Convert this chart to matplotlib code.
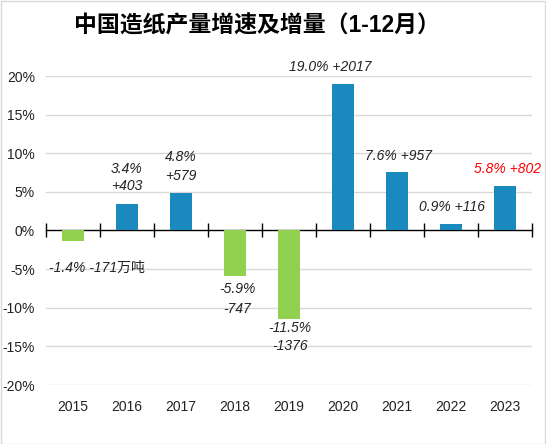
import matplotlib
matplotlib.use("Agg")
import matplotlib.pyplot as plt
import matplotlib.transforms as mtransforms
from matplotlib.patches import Rectangle
import numpy as np

plt.rcParams['font.family'] = ['Liberation Sans', 'Noto Sans CJK SC', 'DejaVu Sans']

years = ['2015', '2016', '2017', '2018', '2019', '2020', '2021', '2022', '2023']
growth = [-1.4, 3.4, 4.8, -5.9, -11.5, 19.0, 7.6, 0.9, 5.8]
increment = [-171, 403, 579, -747, -1376, 2017, 957, 116, 802]
yticks = [-20, -15, -10, -5, 0, 5, 10, 15, 20]

blue = '#1A89BE'
green = '#92D050'

W, H = 546, 444
fig = plt.figure(figsize=(W / 100, H / 100), dpi=100)
ax = fig.add_axes([46 / W, (H - 385) / H, (532 - 46) / W, (385 - 76) / H])

x = np.arange(len(years))
colors = [blue if g >= 0 else green for g in growth]
ax.bar(x, growth, width=0.41, color=colors, zorder=3)

ax.set_xlim(-0.5, len(years) - 0.5)
ax.set_ylim(-20, 20)
ax.set_yticks(yticks)
ax.set_yticklabels([f'{t}%' for t in yticks], fontsize=10, color='#222222')
ax.tick_params(axis='y', length=0, pad=8)
for t in yticks:
    if t != 0:
        ax.axhline(t, color='#D9D9D9', lw=1.0, zorder=1)

for s in ['left', 'right', 'top']:
    ax.spines[s].set_visible(False)
ax.spines['bottom'].set_position(('data', 0))
ax.spines['bottom'].set_color('black')
ax.spines['bottom'].set_linewidth(1.0)
ax.set_xticks(np.arange(len(years) + 1) - 0.5)
ax.set_xticklabels([])
ax.tick_params(axis='x', direction='inout', length=10, width=1.0, color='black')

trans = mtransforms.blended_transform_factory(ax.transData, ax.transAxes)
for i, yr in enumerate(years):
    ax.text(i, -0.07, yr, transform=trans, ha='center', va='center',
            fontsize=10, color='#222222')

# data labels (positions manual, like the reference)
# (x offset, y of line1, y of line2 or None)
label_pos = [(0.45, -4.8, None), (0.0, 7.9, 5.8), (0.0, 9.45, 7.1),
             (0.05, -7.6, -10.2), (0.02, -12.6, -15.0), (-0.24, 21.2, None),
             (0.02, 9.7, None), (0.02, 3.0, None), (0.04, 8.0, None)]
for i, (g, inc) in enumerate(zip(growth, increment)):
    dx, y1, y2 = label_pos[i]
    pct = f'{g:.1f}%'
    incs = f'{inc:+d}'
    if i == 0:
        incs += '万吨'
    col = 'red' if i == len(years) - 1 else '#222222'
    if y2 is None:
        ax.text(i + dx, y1, f'{pct} {incs}', ha='center', va='center',
                fontsize=10, style='italic', color=col, zorder=4)
    else:
        ax.text(i + dx, y1, pct, ha='center', va='center',
                fontsize=10, style='italic', color=col, zorder=4)
        ax.text(i + dx, y2, incs, ha='center', va='center',
                fontsize=10, style='italic', color=col, zorder=4)

fig.text(257 / W, (H - 26) / H, '中国造纸产量增速及增量（1-12月）', ha='center', va='center',
         fontsize=16.5, fontweight='bold', color='black')

fig.patches.append(Rectangle((0.5 / W, 0.5 / H), 1 - 1.5 / W, 1 - 1.5 / H,
                             transform=fig.transFigure, fill=False,
                             edgecolor='#D9D9D9', lw=1.0))

fig.savefig('out.png', dpi=100)
